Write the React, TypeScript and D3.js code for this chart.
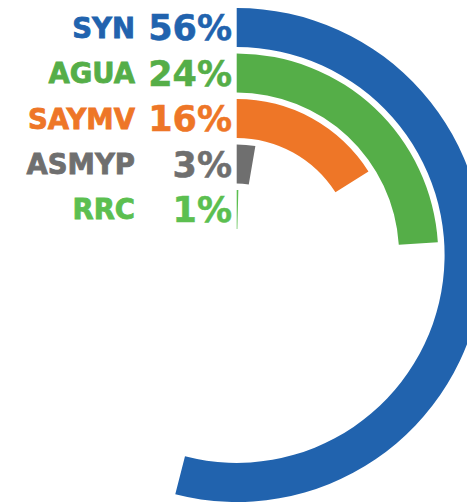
import React, { useRef, useEffect } from 'react';
import * as d3 from 'd3';

const categories = ['SYN', 'AGUA', 'SAYMV', 'ASMYP', 'RRC'];
const shares = [54, 24, 16, 2.7, 0.4];
const pctLabels = ['56%', '24%', '16%', '3%', '1%'];
const colors = ['#2163ae', '#55ae48', '#ee7627', '#6f6f6f', '#5cbf50'];

export default function App() {
  const svgRef = useRef<SVGSVGElement>(null);

  useEffect(() => {
    const svg = d3.select(svgRef.current);
    const width = 467;
    const height = 504;
    const cx = 236.7;
    const cy = 255;

    svg.attr('width', width).attr('height', height);
    svg.selectAll('*').remove();

    // rings: RRC innermost, SYN outermost
    const r = d3.scaleBand<string>()
      .domain([...categories].reverse())
      .range([26, 247])
      .paddingInner(0.14)
      .paddingOuter(0);

    const angle = d3.scaleLinear().domain([0, 100]).range([0, 2 * Math.PI]);

    const arc = d3.arc<any>()
      .innerRadius(d => r(d.name)!)
      .outerRadius(d => r(d.name)! + r.bandwidth())
      .startAngle(0)
      .endAngle(d => angle(d.value));

    const rows = categories.map((name, i) => ({
      name,
      value: shares[i],
      label: pctLabels[i],
      color: colors[i]
    }));

    const g = svg.append('g').attr('transform', `translate(${cx},${cy})`);

    g.selectAll('path')
      .data(rows)
      .join('path')
      .attr('fill', d => d.color)
      .attr('d', arc);

    const mid = (d: any) => cy - (r(d.name)! + r.bandwidth() / 2);

    svg.selectAll('text.name')
      .data(rows)
      .join('text')
      .attr('class', 'name')
      .attr('x', 135)
      .attr('y', d => mid(d) + 10)
      .attr('text-anchor', 'end')
      .attr('font-family', 'DejaVu Sans')
      .attr('font-weight', 'bold')
      .attr('font-size', 27.5)
      .attr('fill', d => d.color)
      .attr('stroke', d => d.color)
      .attr('stroke-width', 0.8)
      .text(d => d.name);

    svg.selectAll('text.pct')
      .data(rows)
      .join('text')
      .attr('class', 'pct')
      .attr('x', 232)
      .attr('y', d => mid(d) + 12.8)
      .attr('text-anchor', 'end')
      .attr('font-family', 'DejaVu Sans')
      .attr('font-weight', 'bold')
      .attr('font-size', 35)
      .attr('fill', d => d.color)
      .attr('stroke', d => d.color)
      .attr('stroke-width', 0.5)
      .text(d => d.label);
  }, []);

  return (
    <svg
      ref={svgRef}
      style={{ position: 'absolute', left: 0, top: 0, display: 'block', background: '#fff' }}
    />
  );
}
